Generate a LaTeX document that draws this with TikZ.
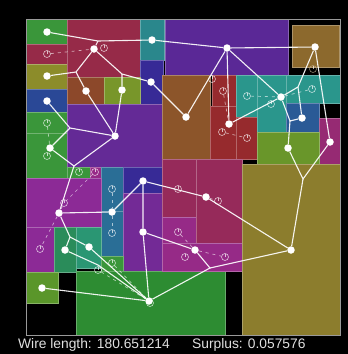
\documentclass[tikz,border=0pt]{standalone}
\usepackage{fontspec}
\setmainfont{Liberation Sans}
\definecolor{cGreen}{RGB}{58,150,58}
\definecolor{cCrim}{RGB}{150,42,72}
\definecolor{cOlive}{RGB}{140,140,42}
\definecolor{cBlue}{RGB}{42,72,150}
\definecolor{cPurp}{RGB}{90,40,150}
\definecolor{cTeal}{RGB}{42,135,140}
\definecolor{cIndigo}{RGB}{55,42,150}
\definecolor{cBrown}{RGB}{140,72,42}
\definecolor{cYG}{RGB}{120,150,42}
\definecolor{cPurpB}{RGB}{100,42,150}
\definecolor{cBrownB}{RGB}{140,85,42}
\definecolor{cGold}{RGB}{140,105,45}
\definecolor{cRed}{RGB}{150,42,45}
\definecolor{cTealB}{RGB}{42,150,140}
\definecolor{cBlueB}{RGB}{42,90,150}
\definecolor{cMag}{RGB}{150,42,115}
\definecolor{cGreenB}{RGB}{105,150,42}
\definecolor{cOliveBig}{RGB}{140,125,45}
\definecolor{cViolet}{RGB}{140,42,150}
\definecolor{cVioletB}{RGB}{115,42,150}
\definecolor{cSteel}{RGB}{42,110,150}
\definecolor{cSea}{RGB}{42,140,90}
\definecolor{cSeaB}{RGB}{42,150,115}
\definecolor{cLime}{RGB}{90,150,42}
\definecolor{cGreenBig}{RGB}{45,140,50}
\definecolor{cRose}{RGB}{150,42,90}
\definecolor{cPink}{RGB}{150,42,135}
\newcommand\rcell[5]{\path[fill=#1,draw=#1!72!white,line width=0.5pt] (#2,#3) rectangle (#4,#5);}
\begin{document}
\begin{tikzpicture}[x=1pt,y=-1pt,
  pin/.style={circle,fill=white,inner sep=0pt,minimum size=7.5pt},
  hpin/.style={circle,draw=white,draw opacity=0.7,line width=0.6pt,inner sep=0pt,minimum size=7pt,
    path picture={\draw[white,opacity=0.7,line width=0.6pt] (path picture bounding box.center) -- (path picture bounding box.north);}},
  wire/.style={white,line width=1.1pt,opacity=0.92},
  dwire/.style={white,opacity=0.6,line width=0.7pt,dash pattern=on 3pt off 4pt},
  lbl/.style={anchor=base west,inner sep=0pt,text=white!88!black,font=\fontsize{13.8}{16}\selectfont}]
\useasboundingbox (0,0) rectangle (348,354);
\fill[black] (0,0) rectangle (348,354);
% cells
\rcell{cGreen}{26.5}{19.5}{67}{44}
\rcell{cCrim}{26.5}{44}{67}{64}
\rcell{cOlive}{26.5}{64}{67}{89}
\rcell{cBlue}{26.5}{89}{67}{112}
\rcell{cGreen}{26.5}{112}{67}{133}
\rcell{cGreen}{26.5}{133}{67}{178}
\rcell{cCrim}{67}{19.5}{140}{77}
\rcell{cTeal}{140}{19.5}{164}{60}
\rcell{cIndigo}{140}{60}{163}{104}
\rcell{cPurp}{165}{19.5}{288}{75}
\rcell{cGold}{292}{25}{339}{67}
\rcell{cBrown}{67}{77}{104}{104}
\rcell{cYG}{104}{77}{140}{104}
\rcell{cPurpB}{67}{104}{162}{167}
\rcell{cBrownB}{162}{75}{210}{159}
\rcell{cRed}{212}{75}{236}{106}
\rcell{cRed}{210}{106}{236}{159}
\rcell{cTealB}{236}{75}{257}{117}
\rcell{cRed}{236}{117}{257}{159}
\rcell{cTealB}{257}{75}{286}{132}
\rcell{cTealB}{286}{75}{340}{103}
\rcell{cBlueB}{286}{103}{319}{132}
\rcell{cMag}{319}{118}{340}{164}
\rcell{cGreenB}{257}{132}{319}{164}
\rcell{cGreen}{67}{167}{90}{178}
\rcell{cPink}{90}{167}{101}{178}
\rcell{cSteel}{101}{167}{123}{211}
\rcell{cSteel}{101}{211}{123}{256}
\rcell{cIndigo}{123}{167}{162}{193}
\rcell{cVioletB}{123}{193}{162}{271}
\rcell{cViolet}{26.5}{178}{101}{227}
\rcell{cViolet}{26.5}{227}{54}{272}
\rcell{cSea}{54}{227}{76}{272}
\rcell{cSeaB}{76}{227}{101}{268}
\rcell{cGreen}{101}{256}{123}{271}
\rcell{cLime}{26.5}{272}{58}{303}
\rcell{cGreenBig}{76}{271}{225}{335}
\rcell{cRose}{162}{159}{196}{217}
\rcell{cPink}{162}{217}{196}{243}
\rcell{cRose}{196}{159}{242}{243}
\rcell{cPink}{162}{243}{242}{271}
\rcell{cOliveBig}{242}{164}{340}{335}
\draw[gray!80,line width=0.8pt] (26.5,19.5) rectangle (340,335);
% pins
\node[pin] (n1) at (47,32) {};
\node[pin] (n2) at (94,49) {};
\node[pin] (n3) at (47,76) {};
\node[pin] (n4) at (86,91) {};
\node[pin] (n5) at (47,101) {};
\node[pin] (n6) at (122,90) {};
\node[pin] (n7) at (152,40) {};
\node[pin] (n8) at (227,48) {};
\node[pin] (n9) at (151,82) {};
\node[pin] (n10) at (186,117) {};
\node[pin] (n11) at (315,47) {};
\node[pin] (n12) at (281,97) {};
\node[pin] (n13) at (302,118) {};
\node[pin] (n14) at (229,124) {};
\node[pin] (n15) at (288,148) {};
\node[pin] (n16) at (330,142) {};
\node[pin] (n17) at (115,136) {};
\node[pin] (n18) at (50,148) {};
\node[pin] (n19) at (59,213) {};
\node[pin] (n20) at (112,212) {};
\node[pin] (n21) at (143,181) {};
\node[pin] (n22) at (206,197) {};
\node[pin] (n23) at (65,250) {};
\node[pin] (n24) at (89,247) {};
\node[pin] (n25) at (42,288) {};
\node[pin] (n26) at (143,232) {};
\node[pin] (n27) at (195,250) {};
\node[pin] (n28) at (149,301) {};
\node[pin] (n29) at (291,250) {};
% junctions
\coordinate (j1) at (98,41);
\coordinate (j2) at (122,74);
\coordinate (j3) at (76,72);
\coordinate (j4) at (70,128);
\coordinate (j5) at (74,166);
\coordinate (j6) at (298,87);
\coordinate (j7) at (290,121);
\coordinate (j8) at (303,179);
\coordinate (j10) at (210,268);
\coordinate (j11) at (70,237);
\coordinate (j13) at (98,265);
% hollow pins
\node[hpin] (h1) at (47,54) {};
\node[hpin] (h2) at (104,48) {};
\node[hpin] (h3) at (212,79) {};
\node[hpin] (h4) at (223,91) {};
\node[hpin,draw=cGold!50!white] (h5) at (313,69) {};
\node[hpin] (h6) at (247,96) {};
\node[hpin] (h7) at (271,104) {};
\node[hpin] (h8) at (312,89) {};
\node[hpin] (h9) at (222,132) {};
\node[hpin] (h10) at (247,138) {};
\node[hpin] (h11) at (47,123) {};
\node[hpin] (h12) at (47,156) {};
\node[hpin] (h13) at (79,172) {};
\node[hpin] (h14) at (95,172) {};
\node[hpin] (h15) at (64,203) {};
\node[hpin] (h16) at (112,189) {};
\node[hpin] (h17) at (112,233) {};
\node[hpin] (h18) at (40,249) {};
\node[hpin] (h19) at (112,263) {};
\node[hpin] (h20) at (98,270) {};
\node[hpin] (h21) at (150,303) {};
\node[hpin] (h22) at (178,189) {};
\node[hpin] (h23) at (218,201) {};
\node[hpin] (h24) at (178,232) {};
\node[hpin] (h25) at (185,257) {};
\node[hpin] (h26) at (225,257) {};
% dashed
\draw[dwire] (h1) -- (n2);
\draw[dwire] (h11) -- (n18);
\draw[dwire] (h14) -- (h15) -- (n19) -- (h18);
\draw[dwire] (h16) -- (n20) -- (h17);
\draw[dwire] (h19) -- (n28);
\draw[dwire] (h20) -- (n28);
\draw[dwire] (h24) -- (n27) -- (h26);
\draw[dwire] (n22) -- (h23);
\draw[dwire] (h6) -- (n12) -- (h8);
\draw[dwire] (h4) -- (n14);
\draw[dwire] (h9) -- (h10);
% wires
\draw[wire] (n1) -- (j1) -- (n7) -- (n8) -- (n11);
\draw[wire] (j1) -- (n2);
\draw[wire] (n8) -- (n12);
\draw[wire] (n8) -- (n14) -- (n12);
\draw[wire] (n12) -- (j6) -- (n11);
\draw[wire] (j6) -- (n13);
\draw[wire] (n12) -- (j7) -- (n13);
\draw[wire] (j7) -- (n15);
\draw[wire] (n11) -- (n16);
\draw[wire] (n15) -- (j8) -- (n16);
\draw[wire] (j8) -- (n29);
\draw[wire] (n2) -- (j3) -- (n3);
\draw[wire] (j3) -- (n4) -- (n17);
\draw[wire] (n2) -- (j2) -- (n9) -- (n10) -- (n8);
\draw[wire] (j2) -- (n6) -- (n17);
\draw[wire] (n5) -- (j4) -- (n17);
\draw[wire] (j4) -- (n18) -- (j5) -- (n17);
\draw[wire] (j5) -- (n19) -- (n20) -- (n21) -- (n22) -- (n29);
\draw[wire] (n21) -- (n26) -- (n28);
\draw[wire] (n19) -- (j11) -- (n23) -- (j13) -- (n28);
\draw[wire] (j11) -- (n24) -- (n28);
\draw[wire] (n25) -- (n28);
\draw[wire] (n26) -- (n27) -- (j10) -- (n28);
\draw[wire] (j10) -- (n29);
% labels
\node[lbl] (wl) at (18,348) {Wire length: 180.651214};
\node[lbl] (sp) at (192,348) {Surplus: 0.057576};
\end{tikzpicture}
\end{document}
